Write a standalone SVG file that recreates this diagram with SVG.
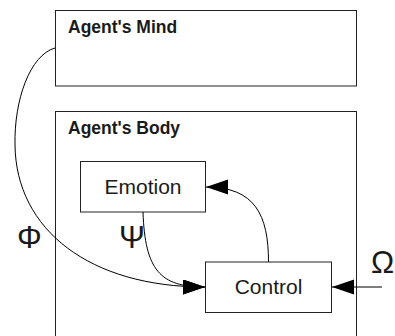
<svg xmlns="http://www.w3.org/2000/svg" width="395" height="336" viewBox="0 0 395 336">
<style>
.box{fill:#fff;stroke:#222;stroke-width:1}
.title{font-family:"Liberation Sans",Arial,sans-serif;font-weight:bold;font-size:17.5px;fill:#1a1a1a}
.lbl{font-family:"Liberation Sans",Arial,sans-serif;font-size:21px;fill:#1a1a1a;text-anchor:middle}
.greek{font-family:"Liberation Sans",Arial,sans-serif;font-size:31px;fill:#1a1a1a}
.conn{fill:none;stroke:#000;stroke-width:1;marker-end:url(#arr)}
</style>
<defs>
<marker id="arr" markerUnits="userSpaceOnUse" markerWidth="23" markerHeight="16" refX="22" refY="7.5" orient="auto">
<path d="M0,0 L22,7.5 L0,15 Z" fill="#000"/>
</marker>
</defs>
<rect width="395" height="336" fill="#fff"/>
<g id="mind">
<rect class="box" x="55.5" y="10.5" width="301" height="75.5"/>
<text class="title" x="68" y="33">Agent's Mind</text>
</g>
<g id="body">
<rect class="box" x="55.5" y="111.5" width="301" height="240"/>
<text class="title" x="68" y="134">Agent's Body</text>
</g>
<g id="emotion">
<rect class="box" x="80.5" y="161.5" width="125" height="50.5"/>
<text class="lbl" x="143" y="194">Emotion</text>
</g>
<g id="control">
<rect class="box" x="205.5" y="262" width="126" height="50.5"/>
<text class="lbl" x="268.5" y="294">Control</text>
</g>
<g id="connectors">
<path class="conn" d="M55,48 C30,55 14,100 15,145 C16,230 90,287 205,287"/>
<path class="conn" d="M143,212 C145,270 160,287 205,287"/>
<path class="conn" d="M268.5,262 C268.5,215 255,187 206,187"/>
<path class="conn" d="M382,287 L332,287"/>
<text class="greek" x="17" y="248">Φ</text>
<text class="greek" x="119" y="248">Ψ</text>
<text class="greek" x="371" y="273">Ω</text>
</g>
</svg>
